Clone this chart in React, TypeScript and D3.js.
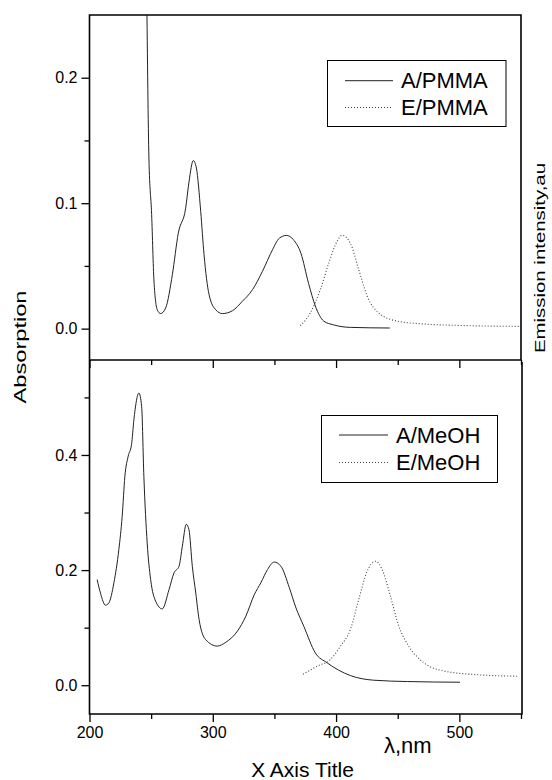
import React, { useEffect, useRef } from "react";
import * as d3 from "d3";

// A/PMMA absorption (top panel)
const apNm = [246.4, 248.2, 250.4, 252.3, 255, 257.7, 261.8, 267.2, 272, 278, 280.7, 284.2, 286.7, 290.2, 292.9, 297, 302.4, 307.8, 316, 324, 332.2, 340.3, 348.5, 353.9, 359.8, 365.3, 371.5, 377.7, 383.2, 390, 398, 411.6, 443.6];
const apVal = [0.27, 0.136, 0.091, 0.038, 0.015, 0.012, 0.0165, 0.043, 0.076, 0.096, 0.117, 0.134, 0.128, 0.0935, 0.059, 0.027, 0.015, 0.012, 0.0143, 0.0218, 0.031, 0.0457, 0.063, 0.072, 0.0743, 0.071, 0.06, 0.036, 0.018, 0.006, 0.003, 0.001, 0.0005];

// E/PMMA emission (top panel)
const epNm = [371, 379.1, 387.2, 394, 400.8, 404.9, 411.6, 418.4, 425.2, 434.6, 449.6, 471.2, 498.4, 548.5];
const epVal = [0.0024, 0.0125, 0.031, 0.052, 0.0696, 0.0744, 0.068, 0.047, 0.026, 0.0125, 0.006, 0.0037, 0.0026, 0.0018];

// A/MeOH absorption (bottom panel)
const amNm = [206.2, 208.9, 213, 215.7, 219.8, 223.8, 226.5, 228.7, 231.4, 234.1, 236, 240.1, 242.3, 244.1, 246.8, 249.6, 253.7, 259, 264.5, 268.5, 272.6, 275.3, 278.5, 280.7, 283.4, 286.2, 288.9, 294.3, 303.7, 310.6, 320, 326.8, 333.6, 339, 344.4, 349.8, 355.3, 362, 367.2, 373.9, 383.2, 392.7, 411.6, 430.6, 457.7, 500.5];
const amVal = [0.1835, 0.16, 0.139, 0.143, 0.178, 0.2356, 0.293, 0.363, 0.398, 0.418, 0.461, 0.5076, 0.484, 0.363, 0.247, 0.1835, 0.1458, 0.1326, 0.166, 0.195, 0.2066, 0.2413, 0.2795, 0.27, 0.2066, 0.16, 0.114, 0.079, 0.068, 0.0747, 0.094, 0.12, 0.157, 0.178, 0.201, 0.214, 0.2066, 0.17, 0.136, 0.102, 0.056, 0.039, 0.0168, 0.0087, 0.0064, 0.0052];

// E/MeOH emission (bottom panel)
const emNm = [373.2, 384.6, 395.4, 403.5, 411.6, 418.4, 425.2, 432, 437.4, 444.1, 450.9, 459, 471.2, 484.8, 511.9, 548.5];
const emVal = [0.019, 0.033, 0.0446, 0.0677, 0.0967, 0.149, 0.198, 0.2153, 0.201, 0.1545, 0.1024, 0.0677, 0.039, 0.026, 0.0186, 0.0156];

const xMajor = [200, 300, 400, 500];
const xMinor = [250, 350, 450, 550];
const topMajor = [0, 0.1, 0.2];
const topMinor = [0.05, 0.15];
const botMajor = [0, 0.2, 0.4];
const botMinor = [0.1, 0.3, 0.5];

const topLegend = ["A/PMMA", "E/PMMA"];
const botLegend = ["A/MeOH", "E/MeOH"];

const FONT = "'Liberation Sans', Arial, Helvetica, sans-serif";

export default function App() {
  const ref = useRef<SVGSVGElement>(null);

  useEffect(() => {
    const svg = d3.select(ref.current);
    svg.selectAll("*").remove();

    const left = 89.5, right = 521, top = 15, mid = 360, bottom = 714;

    const x = d3.scaleLinear().domain([200, 550]).range([left, right]);
    const yTop = d3.scaleLinear().domain([-0.025, 0.25]).range([mid, top]);
    const yBot = d3.scaleLinear().domain([-0.05, 0.565]).range([bottom, mid]);

    const defs = svg.append("defs");
    defs.append("clipPath").attr("id", "clipTop")
      .append("rect").attr("x", left).attr("y", top).attr("width", right - left).attr("height", mid - top);
    defs.append("clipPath").attr("id", "clipBot")
      .append("rect").attr("x", left).attr("y", mid).attr("width", right - left).attr("height", bottom - mid);

    const drawCurve = (nm: number[], val: number[], y: any, clip: string, dotted: boolean) => {
      const pts = nm.map((n, i) => [n, val[i]] as [number, number]);
      const line = d3.line<[number, number]>()
        .x(d => x(d[0]))
        .y(d => y(d[1]))
        .curve(d3.curveMonotoneX);
      svg.append("path")
        .attr("d", line(pts))
        .attr("clip-path", `url(#${clip})`)
        .attr("fill", "none")
        .attr("stroke", dotted ? "#444" : "#222")
        .attr("stroke-width", dotted ? 1.1 : 1)
        .attr("stroke-dasharray", dotted ? "1,2" : null);
    };

    drawCurve(apNm, apVal, yTop, "clipTop", false);
    drawCurve(epNm, epVal, yTop, "clipTop", true);
    drawCurve(amNm, amVal, yBot, "clipBot", false);
    drawCurve(emNm, emVal, yBot, "clipBot", true);

    // left axes
    const yAxis = (y: any, major: number[], minor: number[]) => {
      const g = svg.append("g").attr("transform", `translate(${left},0)`);
      g.call(d3.axisLeft(y).tickValues(major).tickSize(8).tickPadding(4).tickFormat(d3.format(".1f")));
      g.append("g").call(d3.axisLeft(y).tickValues(minor).tickSize(5).tickFormat(() => ""));
      g.selectAll(".domain").remove();
      g.selectAll("line").attr("stroke", "#000").attr("stroke-width", 1.3);
      g.selectAll("text").attr("font-family", FONT).attr("font-size", 16).attr("fill", "#000");
    };
    yAxis(yTop, topMajor, topMinor);
    yAxis(yBot, botMajor, botMinor);

    // x axis of top panel (ticks only)
    const gt = svg.append("g").attr("transform", `translate(0,${mid})`);
    gt.call(d3.axisBottom(x).tickValues(xMajor).tickSize(8).tickFormat(() => ""));
    gt.append("g").call(d3.axisBottom(x).tickValues(xMinor).tickSize(5).tickFormat(() => ""));
    gt.selectAll(".domain").remove();
    gt.selectAll("line").attr("stroke", "#000").attr("stroke-width", 1.3);

    // x axis of bottom panel
    const gb = svg.append("g").attr("transform", `translate(0,${bottom})`);
    gb.call(d3.axisBottom(x).tickValues(xMajor).tickSize(8).tickPadding(5).tickFormat(d3.format("d")));
    gb.append("g").call(d3.axisBottom(x).tickValues(xMinor).tickSize(5).tickFormat(() => ""));
    gb.selectAll(".domain").remove();
    gb.selectAll("line").attr("stroke", "#000").attr("stroke-width", 1.3);
    gb.selectAll("text").attr("font-family", FONT).attr("font-size", 16).attr("fill", "#000");

    // frames
    const frame = svg.append("g").attr("fill", "none").attr("stroke", "#000").attr("stroke-width", 1.6);
    frame.append("path").attr("d", `M${left},${mid}V${top}H${right}V${mid}`);
    frame.append("path").attr("d", `M${left},${mid}H${right}`);
    frame.append("path").attr("d", `M${left},${mid}V${bottom}H${right + 1}V${mid + 2}`);

    // legends
    const legend = (bx: number, by: number, bw: number, bh: number, labels: string[], lx0: number, lx1: number, tx: number, ly: number[]) => {
      const g = svg.append("g");
      g.append("rect").attr("x", bx).attr("y", by).attr("width", bw).attr("height", bh)
        .attr("fill", "#fff").attr("stroke", "#000").attr("stroke-width", 1);
      labels.forEach((lab, i) => {
        g.append("line").attr("x1", lx0).attr("x2", lx1).attr("y1", ly[i]).attr("y2", ly[i])
          .attr("stroke", i === 0 ? "#222" : "#444").attr("stroke-width", 1)
          .attr("stroke-dasharray", i === 0 ? null : "1,2");
        g.append("text").attr("x", tx).attr("y", ly[i] + 7.5)
          .attr("font-family", FONT).attr("font-size", 22).attr("fill", "#000").text(lab);
      });
    };
    legend(327.5, 60.5, 178.5, 66, topLegend, 345, 393, 401, [80.7, 107.5]);
    legend(321.5, 415.5, 176, 67, botLegend, 339, 388, 396, [435, 462.5]);

    // titles
    svg.append("text").attr("transform", "translate(26,347) rotate(-90)")
      .attr("text-anchor", "middle").attr("font-family", FONT).attr("font-size", 17)
      .attr("textLength", 113).attr("lengthAdjust", "spacingAndGlyphs").text("Absorption");
    svg.append("text").attr("transform", "translate(545,258) rotate(-90)")
      .attr("text-anchor", "middle").attr("font-family", FONT).attr("font-size", 15.5)
      .attr("textLength", 190).attr("lengthAdjust", "spacingAndGlyphs").text("Emission intensity,au");
    svg.append("text").attr("x", 302.5).attr("y", 776.5)
      .attr("text-anchor", "middle").attr("font-family", FONT).attr("font-size", 21).text("X Axis Title");
    svg.append("text").attr("x", 384).attr("y", 752.5)
      .attr("font-family", FONT).attr("font-size", 22).text("λ,nm");
  }, []);

  return (
    <svg
      ref={ref}
      width={552}
      height={780}
      style={{ position: "absolute", left: 0, top: 0, display: "block", background: "#fff" }}
    />
  );
}
